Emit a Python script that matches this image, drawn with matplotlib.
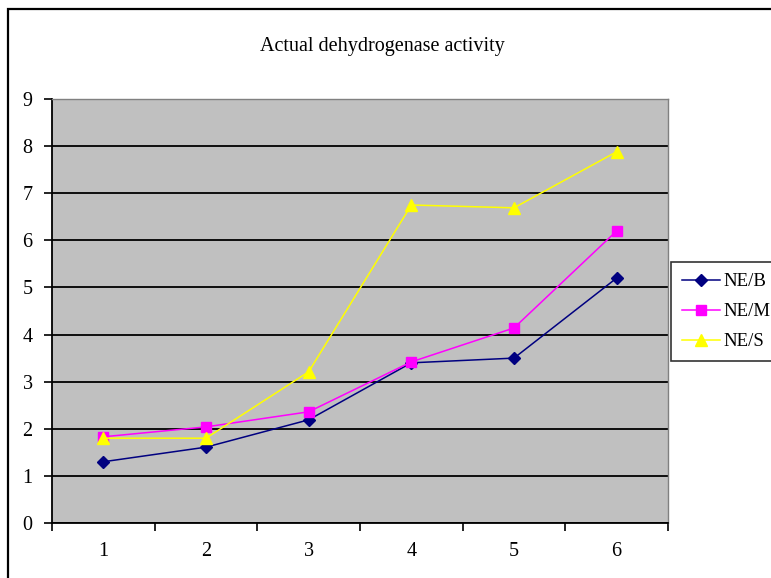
import matplotlib
matplotlib.use("Agg")
import matplotlib.pyplot as plt
from matplotlib.patches import Rectangle

plt.rcParams['font.family'] = ['Liberation Serif', 'DejaVu Serif']

categories = [1, 2, 3, 4, 5, 6]
ne_b = [1.30, 1.61, 2.19, 3.40, 3.50, 5.20]
ne_m = [1.83, 2.04, 2.36, 3.42, 4.14, 6.20]
ne_s = [1.80, 1.80, 3.21, 6.75, 6.69, 7.88]
series_names = ["NE/B", "NE/M", "NE/S"]

fs = 14.5

fig = plt.figure(figsize=(7.71, 5.78), dpi=100)
ax = fig.add_axes([52/771, 1-523/578, (668-52)/771, (523-99)/578])
ax.set_facecolor('#c0c0c0')

ax.plot(categories, ne_b, color='#000080', marker='D', markersize=6.5, lw=1.1, label=series_names[0])
ax.plot(categories, ne_m, color='#ff00ff', marker='s', markersize=7, lw=1.1, label=series_names[1])
ax.plot(categories, ne_s, color='#ffff00', marker='^', markersize=8.5, lw=1.1, label=series_names[2])

ax.set_xlim(0.5, 6.5)
ax.set_ylim(0, 9)
ax.set_yticks(range(0, 10))
ax.yaxis.grid(True, color='black', lw=1.3)
ax.set_axisbelow(True)

# category boundaries as major ticks, labels at centres
ax.set_xticks([i + 0.5 for i in range(0, 7)])
ax.set_xticklabels([])
ax.set_xticks(categories, minor=True)
ax.set_xticklabels([str(c) for c in categories], minor=True)
ax.tick_params(axis='x', which='major', length=6, width=1.2, direction='out')
ax.tick_params(axis='x', which='minor', length=0, pad=14, labelsize=fs)
ax.tick_params(axis='y', length=6, width=1.2, direction='out', labelsize=fs, pad=8)

for s in ['top', 'right']:
    ax.spines[s].set_color('#808080')
    ax.spines[s].set_linewidth(1.0)
for s in ['left', 'bottom']:
    ax.spines[s].set_color('black')
    ax.spines[s].set_linewidth(1.3)

fig.text(382/771, 1-46/578, "Actual dehydrogenase activity", ha='center', va='center', fontsize=fs)

leg = ax.legend(loc='upper left', bbox_to_anchor=(671/771, 1-262/578), bbox_transform=fig.transFigure,
                fancybox=False, frameon=True, fontsize=13.5, handlelength=2.0, borderaxespad=0,
                borderpad=0.6, labelspacing=0.68, handletextpad=0.2)
leg.get_frame().set_edgecolor('black')
leg.get_frame().set_linewidth(1.2)

fig.patches.append(Rectangle((8/771, -0.1), 2, 1 - 9/578 + 0.1, transform=fig.transFigure,
                             fill=False, edgecolor='black', lw=1.6))

fig.savefig("out.png", dpi=100)
